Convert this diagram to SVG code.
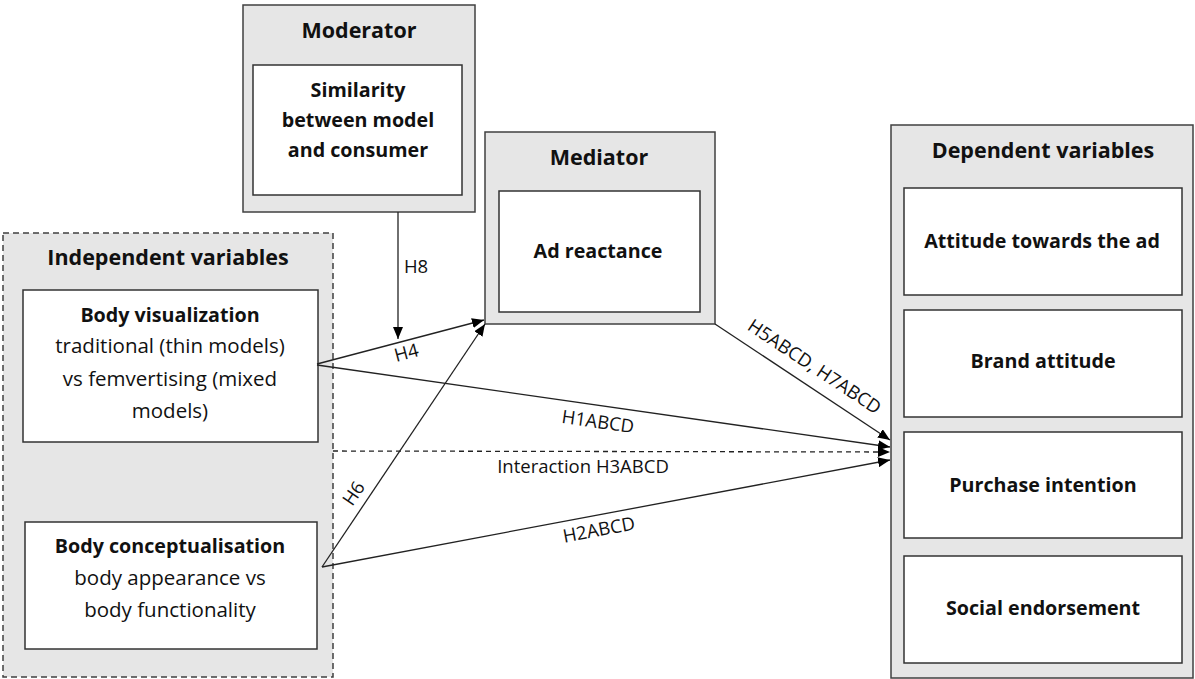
<svg xmlns="http://www.w3.org/2000/svg" width="1195" height="679" viewBox="0 0 1195 679">
<defs>
<marker id="arr" viewBox="0 0 12 10" refX="12" refY="5" markerWidth="12" markerHeight="10" markerUnits="userSpaceOnUse" orient="auto">
<path d="M0,0 L12,5 L0,10 Z" fill="#000"/>
</marker>
<style>
.outer{fill:#e6e6e6;stroke:#404040;stroke-width:1.5}
.dash{fill:#e6e6e6;stroke:#404040;stroke-width:1.5;stroke-dasharray:6,4}
.inner{fill:#fff;stroke:#333;stroke-width:1.5}
.t{font-family:"Open Sans","Liberation Sans",sans-serif;fill:#111;text-anchor:middle}
.b{font-weight:bold;font-size:19.7px}
.r{font-size:20.5px}
.title{font-size:21.5px;font-weight:bold}
.lbl{font-family:"Open Sans","Liberation Sans",sans-serif;font-size:18.5px;fill:#111;text-anchor:middle}
.c{stroke:#222;stroke-width:1.3;fill:none;marker-end:url(#arr)}
</style>
</defs>
<rect width="1195" height="679" fill="#fff"/>

<g id="independent">
<rect class="dash" x="3" y="233" width="330" height="444"/>
<text class="t title" x="168" y="265">Independent variables</text>
</g>
<g id="body-visualization">
<rect class="inner" x="23" y="290" width="295" height="152"/>
<text class="t b" x="170" y="322">Body visualization</text>
<text class="t r" x="170" y="353">traditional (thin models)</text>
<text class="t r" x="170" y="386">vs femvertising (mixed</text>
<text class="t r" x="170" y="418">models)</text>
</g>
<g id="body-conceptualisation">
<rect class="inner" x="25" y="522" width="292" height="127"/>
<text class="t b" x="170" y="553">Body conceptualisation</text>
<text class="t r" x="170" y="585">body appearance vs</text>
<text class="t r" x="170" y="617">body functionality</text>
</g>

<g id="moderator">
<rect class="outer" x="243" y="5" width="232" height="207"/>
<text class="t title" x="359" y="38">Moderator</text>
<rect class="inner" x="253" y="65" width="209" height="130"/>
<text class="t b" x="358" y="97" font-size="20">Similarity</text>
<text class="t b" x="358" y="127" font-size="20">between model</text>
<text class="t b" x="358" y="157" font-size="20">and consumer</text>
</g>

<g id="mediator">
<rect class="outer" x="485" y="132" width="230" height="192"/>
<text class="t title" x="599" y="165">Mediator</text>
<rect class="inner" x="499" y="191" width="201" height="121"/>
<text class="t b" x="598" y="258" font-size="21.5">Ad reactance</text>
</g>

<g id="dependent">
<rect class="outer" x="891" y="125" width="302" height="553"/>
<text class="t title" x="1043" y="158">Dependent variables</text>
</g>
<g id="attitude-ad">
<rect class="inner" x="904" y="188" width="278" height="107"/>
<text class="t b" x="1042" y="248">Attitude towards the ad</text>
</g>
<g id="brand-attitude">
<rect class="inner" x="904" y="310" width="278" height="107"/>
<text class="t b" x="1043" y="368">Brand attitude</text>
</g>
<g id="purchase-intention">
<rect class="inner" x="904" y="432" width="278" height="106"/>
<text class="t b" x="1043" y="492">Purchase intention</text>
</g>
<g id="social-endorsement">
<rect class="inner" x="904" y="556" width="278" height="107"/>
<text class="t b" x="1043" y="615">Social endorsement</text>
</g>

<g id="connectors">
<line class="c" x1="398" y1="212" x2="398" y2="339"/>
<line class="c" x1="317" y1="364" x2="484" y2="320"/>
<line class="c" x1="317" y1="365" x2="890" y2="447"/>
<line class="c" x1="322" y1="567" x2="485" y2="324"/>
<line class="c" x1="322" y1="567" x2="890" y2="460"/>
<line class="c" x1="715" y1="324" x2="890" y2="440"/>
<line x1="333" y1="451" x2="878" y2="452" stroke="#222" stroke-width="1.3" stroke-dasharray="5,4"/>
<path d="M878,447 L890,452 L878,457 Z" fill="#000"/>
<text class="lbl" x="416" y="273">H8</text>
<text class="lbl" x="408" y="359" transform="rotate(-14.8 408 359)">H4</text>
<text class="lbl" x="597" y="428" transform="rotate(8.1 597 428)">H1ABCD</text>
<text class="lbl" x="583" y="473">Interaction H3ABCD</text>
<text class="lbl" x="600" y="536" transform="rotate(-10.7 600 536)">H2ABCD</text>
<text class="lbl" x="359" y="497" transform="rotate(-56 359 497)">H6</text>
<text class="lbl" x="811" y="372" transform="rotate(33.5 811 372)">H5ABCD, H7ABCD</text>
</g>
</svg>
